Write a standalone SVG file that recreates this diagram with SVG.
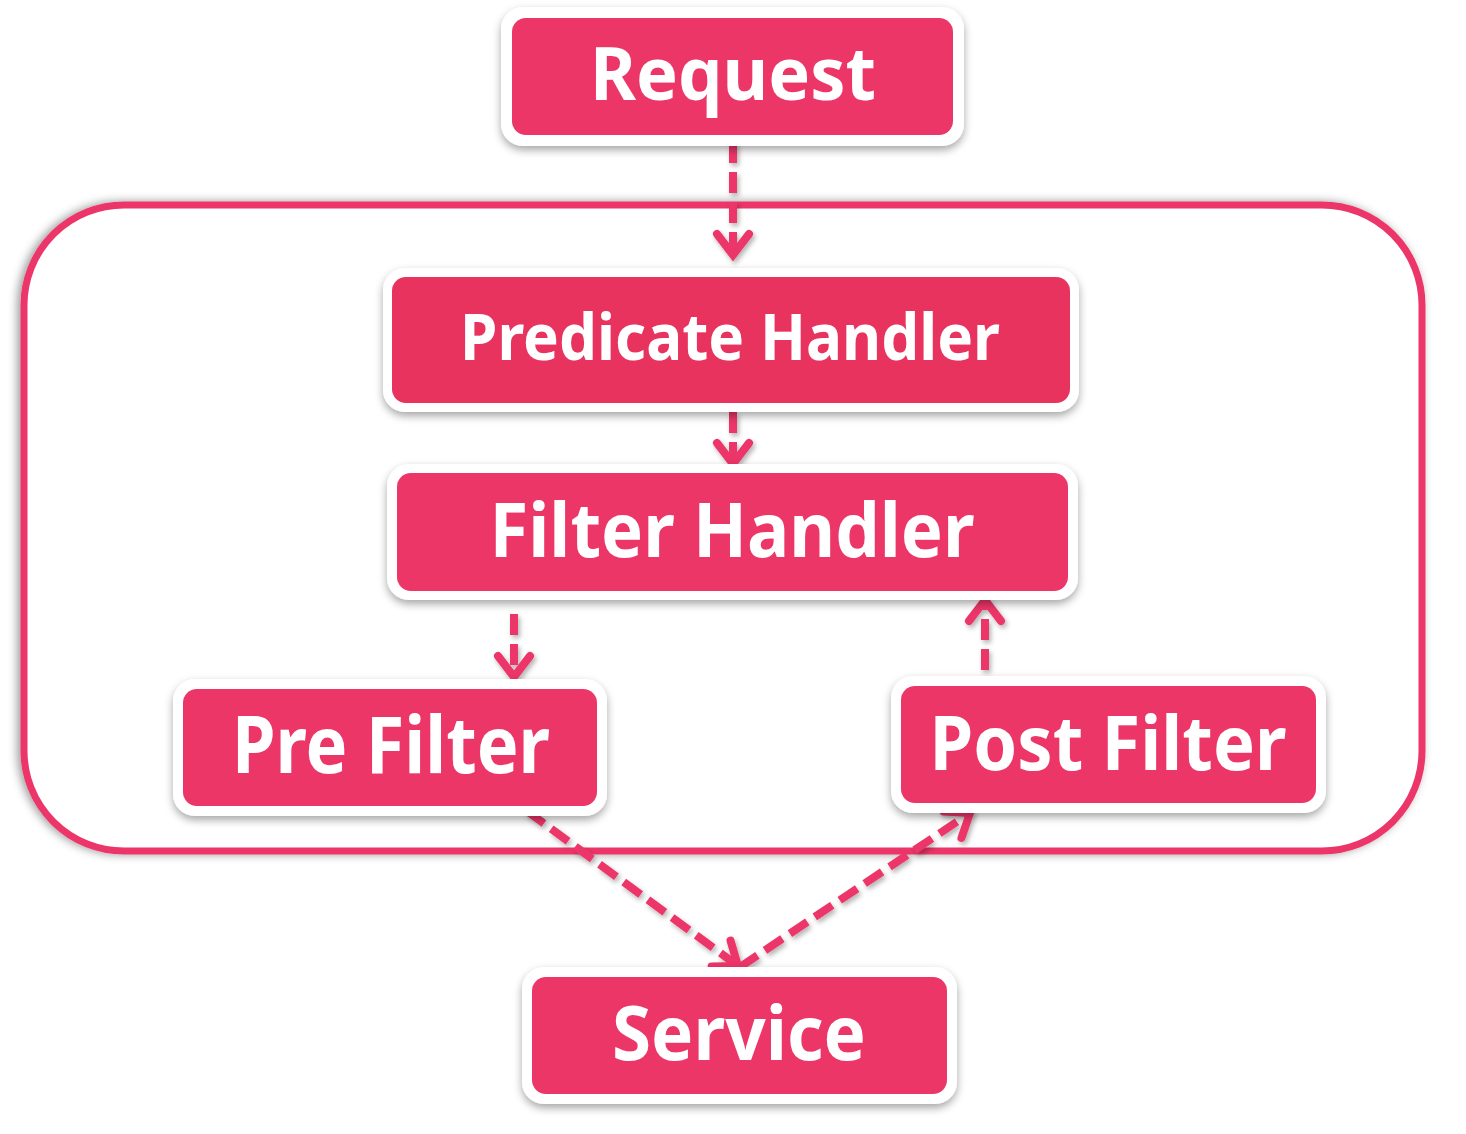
<svg xmlns="http://www.w3.org/2000/svg" width="1466" height="1134" viewBox="0 0 1466 1134">
<defs>
<filter id="sh" x="-10%" y="-20%" width="120%" height="150%">
<feDropShadow dx="0" dy="4" stdDeviation="4" flood-color="#000" flood-opacity="0.35"/>
</filter>
<filter id="shc" x="-5%" y="-5%" width="110%" height="110%">
<feDropShadow dx="-3" dy="0" stdDeviation="5" flood-color="#000" flood-opacity="0.4"/>
</filter>
<filter id="sha" x="-20%" y="-20%" width="140%" height="140%">
<feDropShadow dx="2" dy="3" stdDeviation="2.5" flood-color="#000" flood-opacity="0.3"/>
</filter>
<marker id="ah" markerWidth="30" markerHeight="40" refX="0" refY="0" markerUnits="userSpaceOnUse" orient="auto" overflow="visible">
<path d="M-21,-16 L0,0 L-21,16" fill="none" stroke="#EC3667" stroke-width="8" stroke-linecap="round" stroke-linejoin="miter"/>
</marker>
</defs>
<style>
.outer{fill:#fff;filter:url(#sh)}
.box{fill:#EC3667}
.lbl{fill:#fff;font-family:"Noto Sans","Open Sans","Liberation Sans",sans-serif;font-weight:700;text-anchor:middle}
.con{fill:none;stroke:#EC3667;stroke-width:8;stroke-dasharray:21 9;marker-end:url(#ah)}
</style>
<rect width="1466" height="1134" fill="#fff"/>
<g id="container">
<rect x="24" y="205" width="1398" height="646" rx="100" fill="#fff" stroke="#EC3667" stroke-width="7" filter="url(#shc)"/>
</g>
<g id="connectors" filter="url(#sha)">
<path class="con" d="M733,142 L733,255"/>
<path class="con" d="M733,412 L733,464"/>
<path class="con" d="M514,614 L514,677"/>
<path class="con" d="M985,670 L985,600"/>
<path class="con" d="M527,811 L738,966"/>
<path class="con" d="M740,967 L970,813"/>
</g>
<g id="request">
<rect class="outer" x="501" y="7" width="463" height="139" rx="22"/>
<rect class="box" x="512" y="18" width="441" height="117" rx="14"/>
<text class="lbl" x="733" y="100" font-size="74" textLength="286" lengthAdjust="spacingAndGlyphs">Request</text>
</g>
<g id="predicate">
<rect class="outer" x="383" y="268" width="696" height="144" rx="22"/>
<rect class="box" x="392" y="277" width="678" height="126" rx="14" style="fill:#E9335F"/>
<text class="lbl" x="730" y="360" font-size="65" textLength="540" lengthAdjust="spacingAndGlyphs">Predicate Handler</text>
</g>
<g id="filter">
<rect class="outer" x="387" y="464" width="691" height="136" rx="22"/>
<rect class="box" x="397" y="473" width="671" height="118" rx="14"/>
<text class="lbl" x="732" y="557" font-size="75" textLength="485" lengthAdjust="spacingAndGlyphs">Filter Handler</text>
</g>
<g id="prefilter">
<rect class="outer" x="173" y="679" width="434" height="137" rx="22"/>
<rect class="box" x="183" y="689" width="414" height="117" rx="14"/>
<text class="lbl" x="391" y="773" font-size="78" textLength="318" lengthAdjust="spacingAndGlyphs">Pre Filter</text>
</g>
<g id="postfilter">
<rect class="outer" x="891" y="676" width="435" height="137" rx="22"/>
<rect class="box" x="901" y="686" width="415" height="117" rx="14"/>
<text class="lbl" x="1108" y="770" font-size="76" textLength="357" lengthAdjust="spacingAndGlyphs">Post Filter</text>
</g>
<g id="service">
<rect class="outer" x="522" y="967" width="435" height="137" rx="22"/>
<rect class="box" x="532" y="977" width="415" height="117" rx="14"/>
<text class="lbl" x="739" y="1060" font-size="75" textLength="254" lengthAdjust="spacingAndGlyphs">Service</text>
</g>
</svg>
